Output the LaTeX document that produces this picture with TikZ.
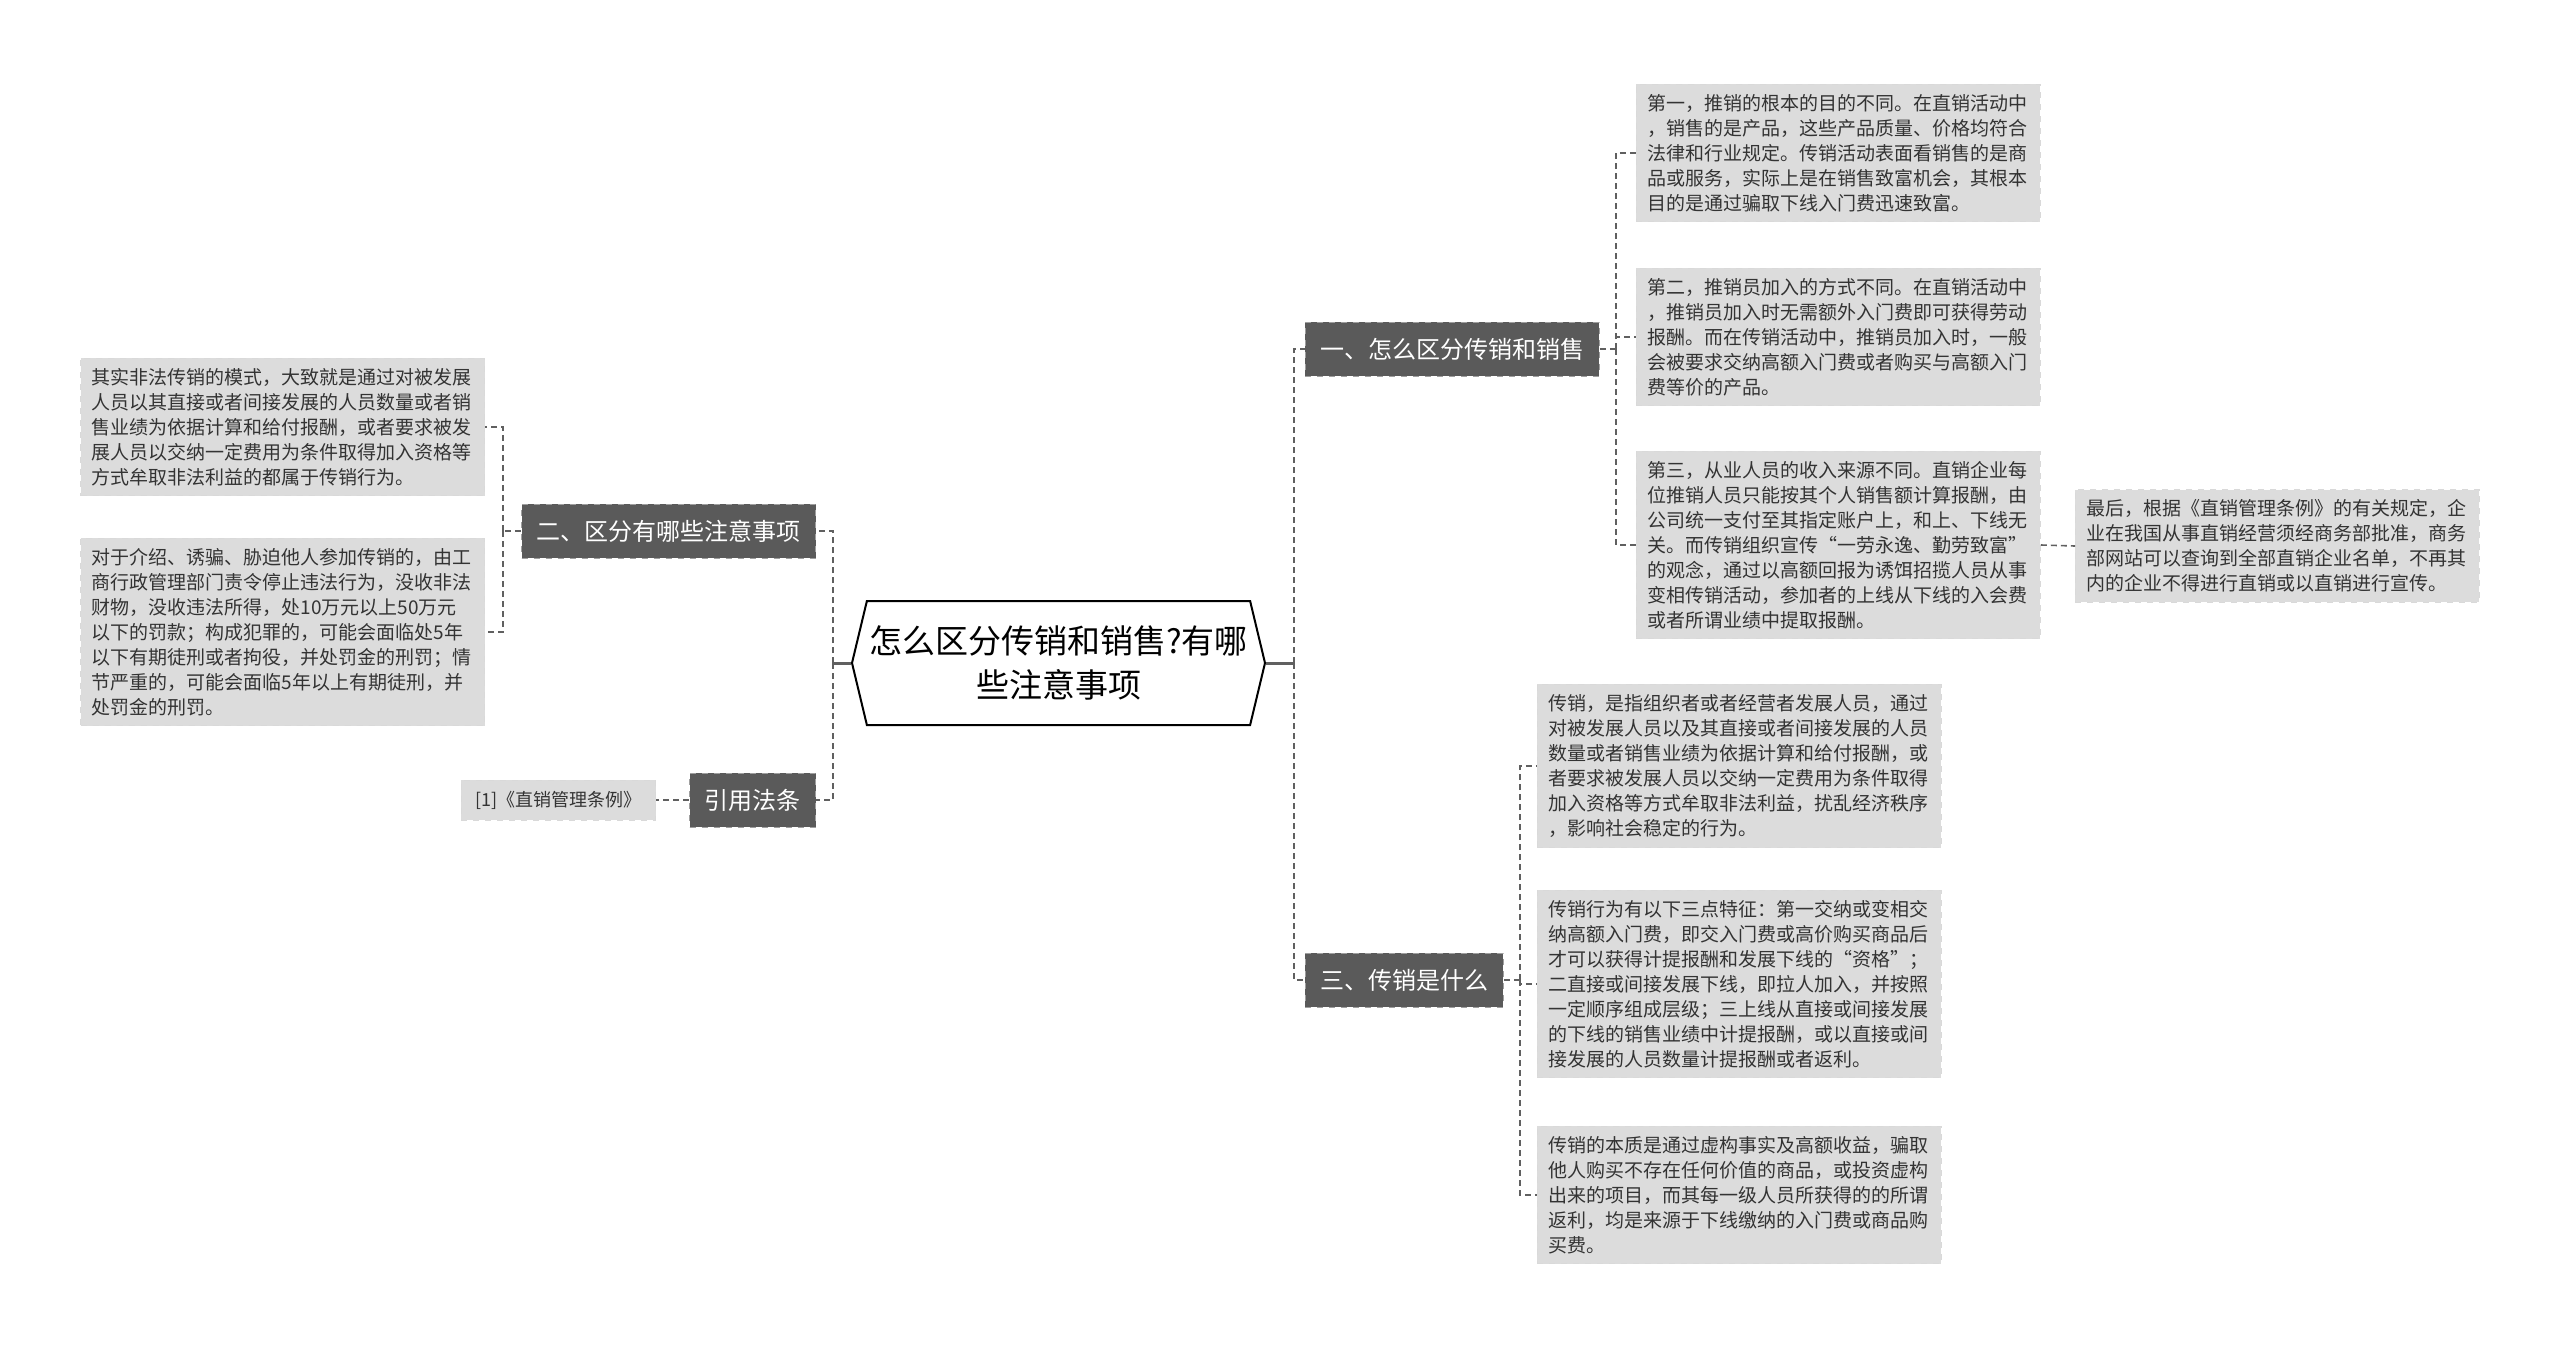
\documentclass[tikz,border=0pt]{standalone}
\usepackage{fontspec}
\setmainfont{Noto Sans CJK SC}
\usetikzlibrary{shapes.symbols}
\definecolor{darkbox}{HTML}{5A5A5A}
\definecolor{leafgray}{HTML}{DCDCDC}
\definecolor{linegray}{HTML}{606060}
\definecolor{txtgray}{HTML}{333333}
\begin{document}
\begin{tikzpicture}[x=0.5pt,y=-0.5pt,
  root/.style={shape=signal,signal to=east and west,signal pointer angle=153,
    draw=black,line width=1pt,fill=white,minimum width=206.5pt,minimum height=62pt,
    align=center,font=\fontsize{16.5}{22}\selectfont,inner sep=0pt},
  mid/.style={draw=gray!75,dashed,fill=darkbox,text=white,
    font=\fontsize{12}{14}\selectfont,minimum height=27pt,inner xsep=7.5pt,inner ysep=0pt},
  leaf/.style={draw=white!85!black,dashed,fill=leafgray,text=txtgray,
    font=\fontsize{9.5}{12.5}\selectfont,text width=191pt,align=left,
    inner xsep=5.5pt,inner ysep=5pt},
  ref/.style={draw=white!85!black,dashed,fill=leafgray,text=txtgray,
    font=\fontsize{9}{11}\selectfont,minimum height=20pt,inner xsep=7pt,inner ysep=0pt},
  conn/.style={draw=linegray,line width=0.8pt,dash pattern=on 3pt off 2pt},
  stub/.style={draw=linegray,line width=1.5pt}]
\useasboundingbox (0,0) rectangle (2560,1349);
\node[root] (root) at (1058.5,663) {怎么区分传销和销售?有哪\\些注意事项};
\node[mid,anchor=west] (yi) at (1305,349) {一、怎么区分传销和销售};
\node[mid,anchor=west] (san) at (1305,980) {三、传销是什么};
\node[mid,anchor=east] (er) at (816,531) {二、区分有哪些注意事项};
\node[mid,anchor=east] (yin) at (816,800) {引用法条};
\node[leaf,anchor=west] (a1) at (1636,153) {第一，推销的根本的目的不同。在直销活动中\\
，销售的是产品，这些产品质量、价格均符合\\
法律和行业规定。传销活动表面看销售的是商\\
品或服务，实际上是在销售致富机会，其根本\\
目的是通过骗取下线入门费迅速致富。};
\node[leaf,anchor=west] (a2) at (1636,337) {第二，推销员加入的方式不同。在直销活动中\\
，推销员加入时无需额外入门费即可获得劳动\\
报酬。而在传销活动中，推销员加入时，一般\\
会被要求交纳高额入门费或者购买与高额入门\\
费等价的产品。};
\node[leaf,anchor=west] (a3) at (1636,545) {第三，从业人员的收入来源不同。直销企业每\\
位推销人员只能按其个人销售额计算报酬，由\\
公司统一支付至其指定账户上，和上、下线无\\
关。而传销组织宣传“一劳永逸、勤劳致富”\\
的观念，通过以高额回报为诱饵招揽人员从事\\
变相传销活动，参加者的上线从下线的入会费\\
或者所谓业绩中提取报酬。};
\node[leaf,anchor=west] (a4) at (2075,546) {最后，根据《直销管理条例》的有关规定，企\\
业在我国从事直销经营须经商务部批准，商务\\
部网站可以查询到全部直销企业名单，不再其\\
内的企业不得进行直销或以直销进行宣传。};
\node[leaf,anchor=west] (b1) at (1537,766) {传销，是指组织者或者经营者发展人员，通过\\
对被发展人员以及其直接或者间接发展的人员\\
数量或者销售业绩为依据计算和给付报酬，或\\
者要求被发展人员以交纳一定费用为条件取得\\
加入资格等方式牟取非法利益，扰乱经济秩序\\
，影响社会稳定的行为。};
\node[leaf,anchor=west] (b2) at (1537,984) {传销行为有以下三点特征：第一交纳或变相交\\
纳高额入门费，即交入门费或高价购买商品后\\
才可以获得计提报酬和发展下线的“资格”；\\
二直接或间接发展下线，即拉人加入，并按照\\
一定顺序组成层级；三上线从直接或间接发展\\
的下线的销售业绩中计提报酬，或以直接或间\\
接发展的人员数量计提报酬或者返利。};
\node[leaf,anchor=west] (b3) at (1537,1195) {传销的本质是通过虚构事实及高额收益，骗取\\
他人购买不存在任何价值的商品，或投资虚构\\
出来的项目，而其每一级人员所获得的的所谓\\
返利，均是来源于下线缴纳的入门费或商品购\\
买费。};
\node[leaf,anchor=east] (l1) at (485,427) {其实非法传销的模式，大致就是通过对被发展\\
人员以其直接或者间接发展的人员数量或者销\\
售业绩为依据计算和给付报酬，或者要求被发\\
展人员以交纳一定费用为条件取得加入资格等\\
方式牟取非法利益的都属于传销行为。};
\node[leaf,anchor=east] (l2) at (485,632) {对于介绍、诱骗、胁迫他人参加传销的，由工\\
商行政管理部门责令停止违法行为，没收非法\\
财物，没收违法所得，处10万元以上50万元\\
以下的罚款；构成犯罪的，可能会面临处5年\\
以下有期徒刑或者拘役，并处罚金的刑罚；情\\
节严重的，可能会面临5年以上有期徒刑，并\\
处罚金的刑罚。};
\node[ref,anchor=east] (law) at (656,800) {[1]《直销管理条例》};
\draw[stub] (root.east) -- ++(28,0) coordinate (rj);
\draw[stub] (root.west) -- ++(-18,0) coordinate (lj);
\foreach \n in {yi,san} \draw[conn] (rj) |- (\n.west);
\foreach \n in {er,yin} \draw[conn] (lj) |- (\n.east);
\draw[conn] (yi.east) -- ++(16,0) coordinate (yj);
\foreach \n in {a1,a2,a3} \draw[conn] (yj) |- (\n.west);
\draw[conn] (a3.east) -- (a4.west);
\draw[conn] (san.east) -- ++(16,0) coordinate (sj);
\foreach \n in {b1,b2,b3} \draw[conn] (sj) |- (\n.west);
\draw[conn] (er.west) -- ++(-18,0) coordinate (ej);
\foreach \n in {l1,l2} \draw[conn] (ej) |- (\n.east);
\draw[conn] (yin.west) -- (law.east);
\end{tikzpicture}
\end{document}
